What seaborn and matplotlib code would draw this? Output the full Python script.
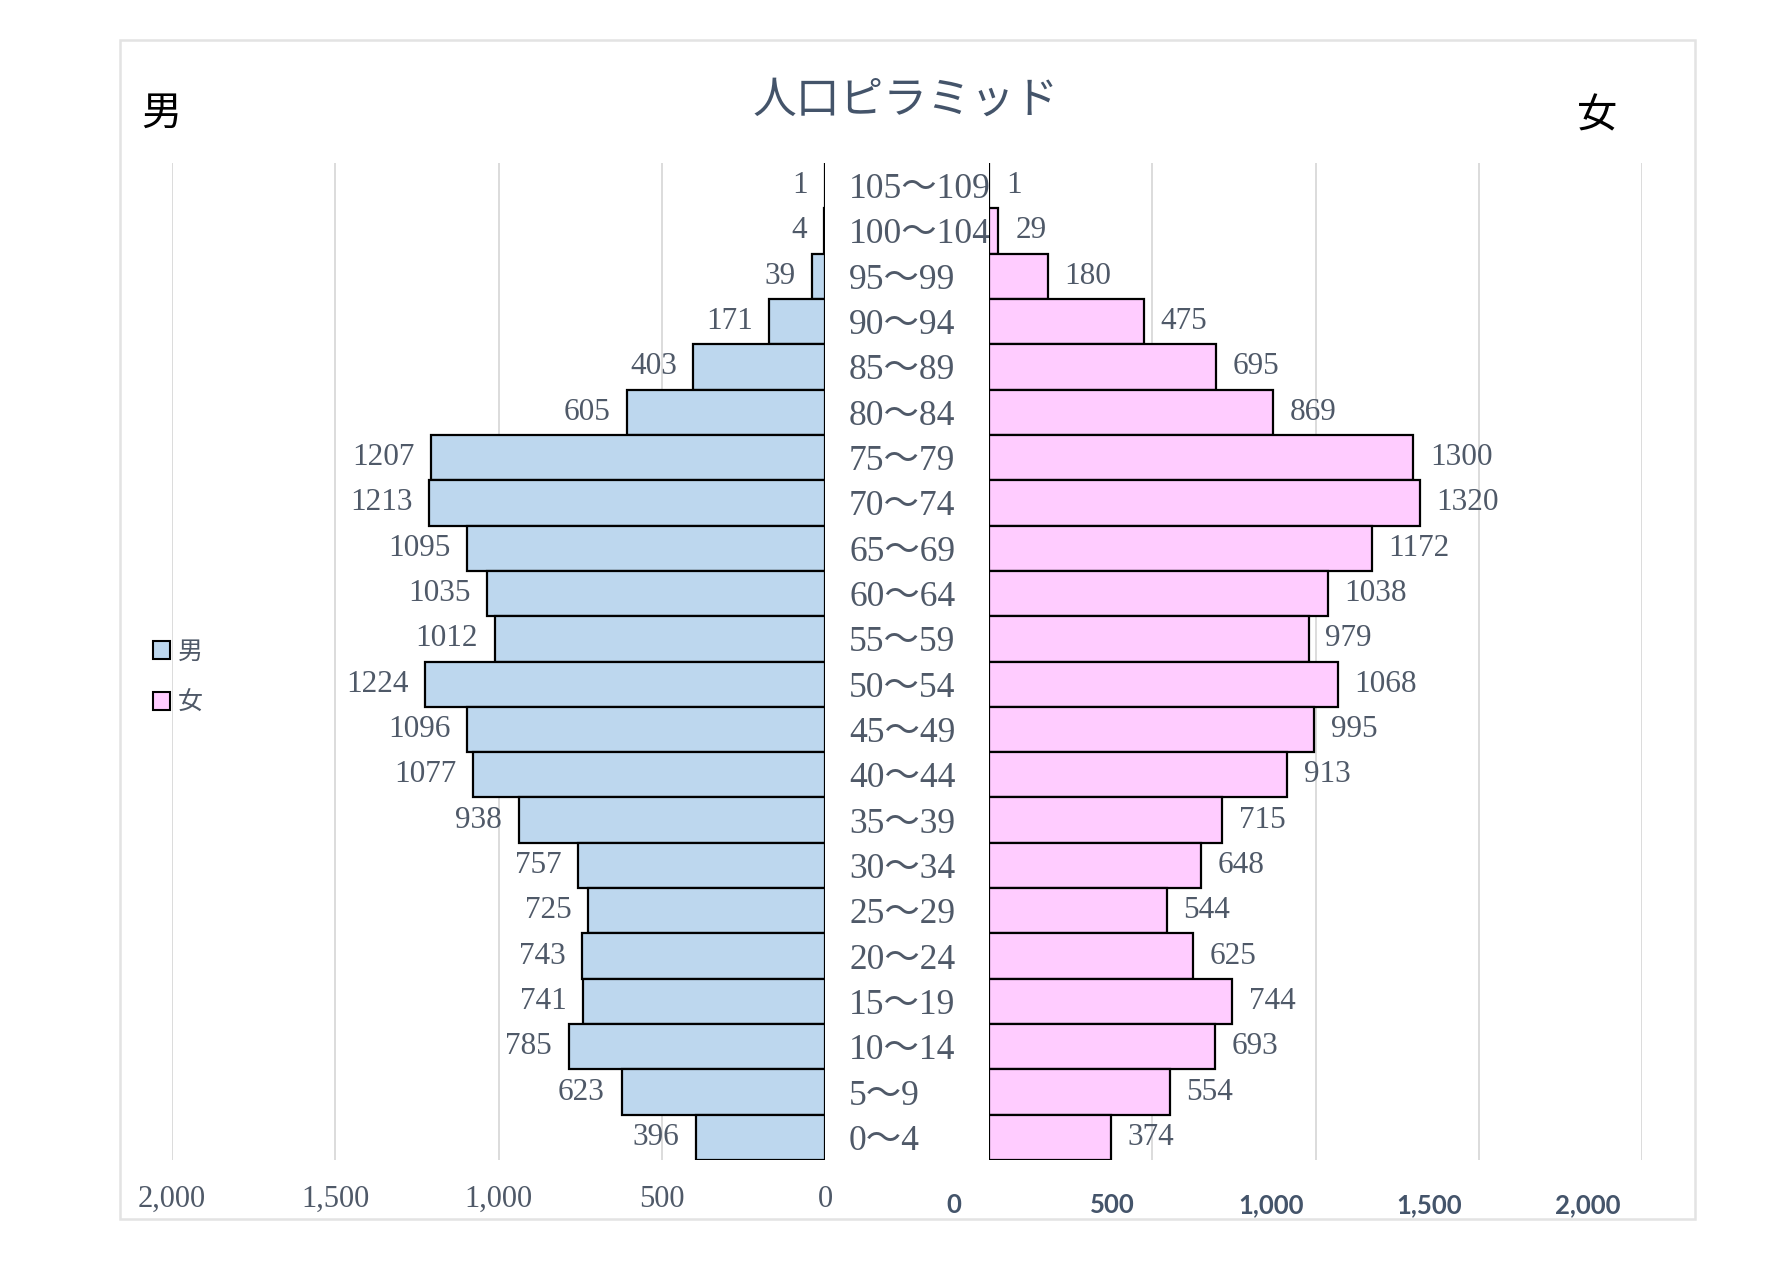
import pandas as pd
import numpy as np
import matplotlib.pyplot as plt
import seaborn as sns
from matplotlib.patches import Patch, Rectangle

sns.set_style('white')
plt.rcParams['font.family'] = ['Liberation Serif', 'Noto Sans CJK JP']

# data, top row first
age_groups = ['105～109', '100～104', '95～99', '90～94', '85～89', '80～84',
              '75～79', '70～74', '65～69', '60～64', '55～59', '50～54',
              '45～49', '40～44', '35～39', '30～34', '25～29', '20～24',
              '15～19', '10～14', '5～9', '0～4']
male = [1, 4, 39, 171, 403, 605, 1207, 1213, 1095, 1035, 1012, 1224,
        1096, 1077, 938, 757, 725, 743, 741, 785, 623, 396]
female = [1, 29, 180, 475, 695, 869, 1300, 1320, 1172, 1038, 979, 1068,
          995, 913, 715, 648, 544, 625, 744, 693, 554, 374]
x_ticks = [0, 500, 1000, 1500, 2000]

df = pd.DataFrame({'age': age_groups, 'male': male, 'female': female})

W, H = 1785, 1263
fig = plt.figure(figsize=(W / 100, H / 100), dpi=100)

male_color = '#BDD7EE'
female_color = '#FFCCFF'
txt_color = '#4F5968'
grid_color = '#D9D9D9'

top, bottom = 163, 1160
ax_b = 1 - bottom / H
ax_h = (bottom - top) / H
axl = fig.add_axes([172 / W, ax_b, (825 - 172) / W, ax_h])
axr = fig.add_axes([989 / W, ax_b, (1642 - 989) / W, ax_h])

sns.barplot(data=df, x='male', y='age', orient='h', color=male_color, saturation=1,
            width=1.0, edgecolor='black', linewidth=1.6, ax=axl)
sns.barplot(data=df, x='female', y='age', orient='h', color=female_color, saturation=1,
            width=1.0, edgecolor='black', linewidth=1.6, ax=axr)

for ax in (axl, axr):
    ax.set_xlim(0, 2000)
    ax.set_xticks(x_ticks)
    ax.grid(axis='x', color=grid_color, lw=1.3)
    ax.grid(axis='y', visible=False)
    ax.set_axisbelow(True)
    ax.set_xlabel('')
    ax.set_ylabel('')
    ax.tick_params(length=0)
    for s in ax.spines.values():
        s.set_visible(False)
    ax.set_ylim(len(age_groups) - 0.5, -0.5)

axl.invert_xaxis()
axl.set_yticks([])
axl.set_xticklabels([f'{v:,}' for v in x_ticks], fontsize=22, color=txt_color)
axl.tick_params(axis='x', pad=18)

# age labels between the halves
axr.set_yticks(range(len(age_groups)))
axr.set_yticklabels(age_groups, fontsize=25.5, color=txt_color, ha='left')
axr.tick_params(axis='y', pad=140 * 0.72)
axr.set_xticklabels([])

axl.bar_label(axl.containers[0], labels=[str(v) for v in male], padding=12,
              fontsize=22.5, color=txt_color)
axr.bar_label(axr.containers[0], labels=[str(v) for v in female], padding=12,
              fontsize=22.5, color=txt_color)

# right hand tick labels sit on their own (offset) scale
axt = fig.add_axes([954 / W, ax_b, (1588 - 954) / W, ax_h])
axt.patch.set_alpha(0)
axt.set_xlim(0, 2000)
axt.set_xticks(x_ticks)
axt.set_xticklabels([f'{v:,}' for v in x_ticks], fontsize=18.5, color='#44546A',
                    family=['Lato', 'DejaVu Sans'], fontweight='bold')
axt.set_yticks([])
axt.tick_params(length=0, pad=24)
for s in axt.spines.values():
    s.set_visible(False)

# outer frame
fig.add_artist(Rectangle((120 / W, 1 - 1219 / H), (1695 - 120) / W, (1219 - 40) / H,
                         transform=fig.transFigure, fill=False, edgecolor='#E3E3E3', lw=1.8))

fig.text(906 / W, 1 - 100 / H, '人口ピラミッド', ha='center', va='center', fontsize=31.5,
         color='#44546A', family='Noto Sans CJK JP')
fig.text(161 / W, 1 - 113 / H, '男', ha='center', va='center', fontsize=29,
         color='black', family='Noto Sans CJK JP')
fig.text(1597 / W, 1 - 116 / H, '女', ha='center', va='center', fontsize=29,
         color='black', family='Noto Sans CJK JP')

handles = [Patch(facecolor=male_color, edgecolor='black', lw=1.5),
           Patch(facecolor=female_color, edgecolor='black', lw=1.5)]
leg = fig.legend(handles, ['男', '女'], loc='center left',
                 bbox_to_anchor=(130 / W, 1 - 677 / H), frameon=False,
                 handlelength=0.7, handleheight=0.7, handletextpad=0.3,
                 labelspacing=1.0, prop={'family': 'Noto Sans CJK JP', 'size': 18})
for t in leg.get_texts():
    t.set_color(txt_color)

fig.savefig('out.png', dpi=100, facecolor='white')
